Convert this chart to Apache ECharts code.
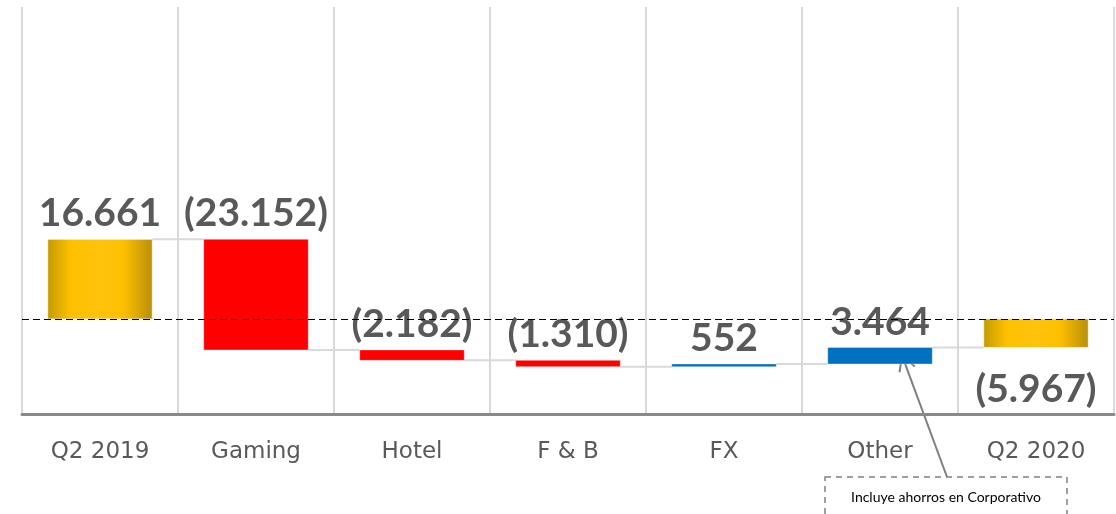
<!DOCTYPE html>
<html>
<head>
<meta charset="utf-8">
<script src="https://cdn.jsdelivr.net/npm/echarts@6/dist/echarts.min.js"></script>
<style>html,body{margin:0;padding:0;background:#fff;}#c{width:1116px;height:514px;}</style>
</head>
<body>
<div id="c"></div>
<script>
const categories = ['Q2 2019', 'Gaming', 'Hotel', 'F & B', 'FX', 'Other', 'Q2 2020'];
const values = [16661, -23152, -2182, -1310, 552, 3464, -5967];
const isTotal = [1, 0, 0, 0, 0, 0, 1];
const noteText = 'Incluye ahorros en Corporativo';

function fmt(n) {
  const s = String(Math.abs(n)).replace(/\B(?=(\d{3})+(?!\d))/g, '.');
  return n < 0 ? '(' + s + ')' : s;
}

const data = [];
let run = 0;
values.forEach((v, i) => {
  let s, e;
  if (isTotal[i]) { s = 0; e = v; } else { s = run; e = run + v; }
  run = e;
  data.push([i, s, e, v, isTotal[i]]);
});

const chart = echarts.init(document.getElementById('c'), null, {renderer: 'canvas'});
const n = categories.length;

function renderItem(params, api) {
  const i = api.value(0), s = api.value(1), e = api.value(2), v = api.value(3), t = api.value(4);
  const p0 = api.coord([i, s]), p1 = api.coord([i, e]);
  const bw = api.size([1, 0])[0] * 0.67;
  const top = Math.min(p0[1], p1[1]), bot = Math.max(p0[1], p1[1]);
  const x = p0[0] - bw / 2;
  let fill;
  if (t) {
    fill = new echarts.graphic.LinearGradient(0, 0, 1, 0, [
      {offset: 0, color: '#C29A00'},
      {offset: 0.22, color: '#FFC000'},
      {offset: 0.5, color: '#FFC30D'},
      {offset: 0.72, color: '#FFC000'},
      {offset: 1, color: '#B88E0A'}
    ]);
  } else {
    fill = v < 0 ? '#FF0000' : '#0070C0';
  }
  const children = [];
  if (i < n - 1) {
    const nx = api.coord([i + 1, e])[0] - bw / 2;
    children.push({
      type: 'line',
      shape: {x1: x + bw, y1: p1[1], x2: nx, y2: p1[1]},
      style: {stroke: '#D9D9D9', lineWidth: 2}
    });
  }
  children.push({
    type: 'rect',
    shape: {x: x, y: top, width: bw, height: Math.max(bot - top, 1)},
    style: {fill: fill, stroke: 'rgba(255,255,255,0.35)', lineWidth: 1}
  });
  const below = t && v < 0;
  children.push({
    type: 'text',
    style: {
      text: fmt(v),
      x: p0[0],
      y: below ? bot + 22 : top - 6,
      align: 'center',
      verticalAlign: below ? 'top' : 'bottom',
      fill: '#595959',
      fontFamily: 'Lato',
      fontWeight: 'bold',
      fontSize: 39
    }
  });
  return {type: 'group', children: children};
}

chart.setOption({
  animation: false,
  grid: {left: 22, right: 2, top: 7, bottom: 100},
  xAxis: {
    type: 'category',
    data: categories,
    axisTick: {show: false},
    axisLine: {onZero: false, lineStyle: {color: '#898989', width: 3}},
    axisLabel: {color: '#595959', fontFamily: 'DejaVu Sans', fontSize: 23, margin: 27},
    splitLine: {show: true, lineStyle: {color: '#D9D9D9', width: 2}}
  },
  yAxis: {
    type: 'value',
    show: false,
    min: -19900,
    max: 65300,
    splitLine: {show: false}
  },
  series: [{
    type: 'custom',
    renderItem: renderItem,
    encode: {x: 0, y: [1, 2]},
    data: data,
    markLine: {
      silent: true,
      symbol: 'none',
      label: {show: false},
      lineStyle: {color: '#000', type: [7, 4], width: 1},
      data: [{yAxis: 0}]
    }
  }]
});

// annotation anchored to the "Other" bar
const oi = categories.indexOf('Other');
const tip0 = chart.convertToPixel({gridIndex: 0}, [oi, data[oi][2]]);
const tip = [tip0[0] + 22, tip0[1] + 8];
const boxX = 825, boxY = 477, boxW = 242;
const start = [boxX + boxW / 2 + 1, boxY];
const dx = tip[0] - start[0], dy = tip[1] - start[1];
const len = Math.sqrt(dx * dx + dy * dy);
const ux = dx / len, uy = dy / len;
const ah = 17, aw = 0.5;
const a1 = [tip[0] - ah * (ux * Math.cos(aw) - uy * Math.sin(aw)), tip[1] - ah * (uy * Math.cos(aw) + ux * Math.sin(aw))];
const a2 = [tip[0] - ah * (ux * Math.cos(-aw) - uy * Math.sin(-aw)), tip[1] - ah * (uy * Math.cos(-aw) + ux * Math.sin(-aw))];

chart.setOption({
  graphic: [
    {type: 'rect', shape: {x: boxX, y: boxY, width: boxW, height: 90},
     style: {fill: 'none', stroke: '#808080', lineWidth: 1.5, lineDash: [6, 5]}},
    {type: 'text', style: {text: noteText, x: boxX + boxW / 2, y: 497, align: 'center', verticalAlign: 'middle',
      fill: '#000', fontFamily: 'Lato', fontSize: 14}},
    {type: 'line', shape: {x1: start[0], y1: start[1], x2: tip[0], y2: tip[1]},
     style: {stroke: '#7F7F7F', lineWidth: 2}},
    {type: 'polyline', shape: {points: [a1, tip, a2]},
     style: {stroke: '#7F7F7F', lineWidth: 2, fill: 'none'}}
  ]
});
</script>
</body>
</html>
